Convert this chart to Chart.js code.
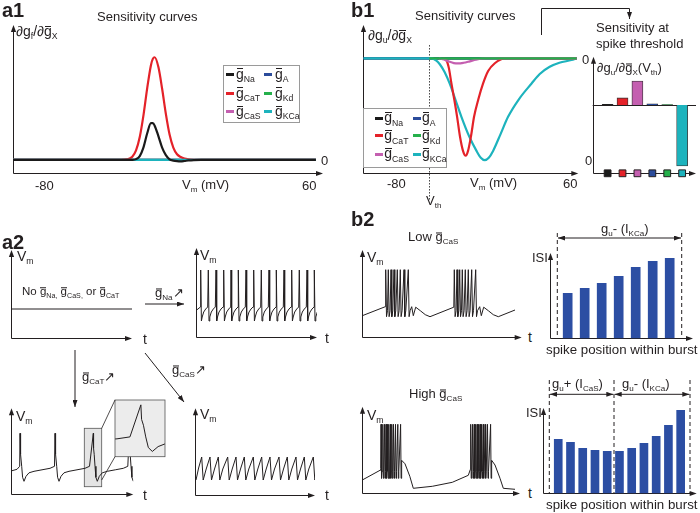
<!DOCTYPE html>
<html>
<head>
<meta charset="utf-8">
<script src="https://cdn.jsdelivr.net/npm/chart.js@4.4.1/dist/chart.umd.min.js"></script>
<style>
body{margin:0;background:#fff}
#fig{position:relative;width:700px;height:513px;overflow:hidden;font-family:"Liberation Sans",Arial,sans-serif;color:#231f20}
canvas{position:absolute}
.t{position:absolute;font-size:13px;line-height:1;white-space:nowrap;transform:translateY(-50%)}
.s{font-size:62%;position:relative;top:0.4em}
.o{position:relative}
.o::before{content:"";position:absolute;left:0.04em;right:0.04em;top:0.2em;border-top:1px solid currentColor}
.b{font-weight:bold;font-size:20px}
.lg{font-size:14px}
.leg{position:absolute;box-sizing:border-box;border:1px solid #9a9a9a;background:#fff}
.sw{position:absolute;width:8px;height:3px}
svg{position:absolute;left:0;top:0}
</style>
</head>
<body>
<div id="fig">
<div id="charts"></div>

<!-- a1 -->
<div class="t b" style="left:2px;top:10px">a1</div>
<div class="t" style="left:97px;top:16px">Sensitivity curves</div>
<div class="t lg" style="left:16px;top:31px">∂g<span class="s">f</span>/∂<span class="o">g</span><span class="s">X</span></div>
<div class="t" style="left:321px;top:160px">0</div>
<div class="t" style="left:35px;top:185px">-80</div>
<div class="t" style="left:182px;top:185px">V<span class="s">m</span> (mV)</div>
<div class="t" style="left:302px;top:185px">60</div>

<!-- b1 -->
<div class="t b" style="left:351px;top:10px">b1</div>
<div class="t" style="left:415px;top:15px">Sensitivity curves</div>
<div class="t lg" style="left:368px;top:35px">∂g<span class="s">u</span>/∂<span class="o">g</span><span class="s">X</span></div>
<div class="t" style="left:582px;top:59px">0</div>
<div class="t" style="left:585px;top:160px">0</div>
<div class="t" style="left:387px;top:183px">-80</div>
<div class="t" style="left:470px;top:183px">V<span class="s">m</span> (mV)</div>
<div class="t" style="left:563px;top:183px">60</div>
<div class="t" style="left:426px;top:201px">V<span class="s">th</span></div>
<div class="t" style="left:596px;top:27px">Sensitivity at</div>
<div class="t" style="left:596px;top:43px">spike threshold</div>
<div class="t" style="left:597px;top:68px">∂g<span class="s">u</span>/∂<span class="o">g</span><span class="s">X</span>(V<span class="s">th</span>)</div>

<!-- a2 -->
<div class="t b" style="left:2px;top:242px">a2</div>
<div class="t lg" style="left:17px;top:256px">V<span class="s">m</span></div>
<div class="t" style="left:22px;top:292px;font-size:11.5px">No <span class="o">g</span><span class="s">Na,</span> <span class="o">g</span><span class="s">CaS,</span> or <span class="o">g</span><span class="s">CaT</span></div>
<div class="t" style="left:155px;top:293px"><span class="o">g</span><span class="s">Na</span>↗</div>
<div class="t" style="left:82px;top:377px"><span class="o">g</span><span class="s">CaT</span>↗</div>
<div class="t" style="left:172px;top:370px"><span class="o">g</span><span class="s">CaS</span>↗</div>
<div class="t lg" style="left:200px;top:255px">V<span class="s">m</span></div>
<div class="t lg" style="left:16px;top:416px">V<span class="s">m</span></div>
<div class="t lg" style="left:200px;top:414px">V<span class="s">m</span></div>
<div class="t lg" style="left:143px;top:339px">t</div>
<div class="t lg" style="left:325px;top:338px">t</div>
<div class="t lg" style="left:143px;top:495px">t</div>
<div class="t lg" style="left:325px;top:495px">t</div>

<!-- b2 -->
<div class="t b" style="left:351px;top:219px">b2</div>
<div class="t" style="left:408px;top:237px">Low <span class="o">g</span><span class="s">CaS</span></div>
<div class="t" style="left:409px;top:394px">High <span class="o">g</span><span class="s">CaS</span></div>
<div class="t lg" style="left:367px;top:257px">V<span class="s">m</span></div>
<div class="t lg" style="left:367px;top:415px">V<span class="s">m</span></div>
<div class="t lg" style="left:528px;top:337px">t</div>
<div class="t lg" style="left:528px;top:493px">t</div>
<div class="t" style="left:532px;top:257px">ISI</div>
<div class="t" style="left:526px;top:412px">ISI</div>
<div class="t" style="left:601px;top:229px">g<span class="s">u</span>- (I<span class="s">KCa</span>)</div>
<div class="t" style="left:552px;top:384px">g<span class="s">u</span>+ (I<span class="s">CaS</span>)</div>
<div class="t" style="left:622px;top:384px">g<span class="s">u</span>- (I<span class="s">KCa</span>)</div>
<div class="t" style="left:546px;top:350px;font-size:13.3px">spike position within burst</div>
<div class="t" style="left:546px;top:505px;font-size:13.3px">spike position within burst</div>

<svg width="700" height="513" viewBox="0 0 700 513">
<defs>
<marker id="ah" markerUnits="userSpaceOnUse" markerWidth="7" markerHeight="5" refX="7" refY="2.5" orient="auto-start-reverse">
<path d="M0,0L7,2.5L0,5z" fill="#231f20"/>
</marker>
</defs>
<g stroke="#231f20" stroke-width="1" fill="none">
<polyline points="541.5,35 541.5,8.5 629.5,8.5 629.5,19" marker-end="url(#ah)"/>
<line x1="145" y1="304" x2="184" y2="304" marker-end="url(#ah)"/>
<line x1="75" y1="350" x2="75" y2="407" marker-end="url(#ah)"/>
<line x1="145" y1="353" x2="184" y2="402" marker-end="url(#ah)"/>
<line x1="101.7" y1="428.3" x2="115" y2="400" stroke-width="0.8"/>
<line x1="101.7" y1="480" x2="115" y2="456.7" stroke-width="0.8"/>
<g stroke-dasharray="4 3">
<line x1="557.3" y1="233" x2="557.3" y2="338"/>
<line x1="681.7" y1="233" x2="681.7" y2="338"/>
<line x1="549.3" y1="380" x2="549.3" y2="493"/>
<line x1="614" y1="380" x2="614" y2="493"/>
<line x1="690" y1="380" x2="690" y2="493"/>
</g>
<line x1="558" y1="238" x2="681" y2="238" marker-start="url(#ah)" marker-end="url(#ah)"/>
<line x1="550" y1="394.3" x2="613.3" y2="394.3" marker-start="url(#ah)" marker-end="url(#ah)"/>
<line x1="614.7" y1="394.3" x2="689.3" y2="394.3" marker-start="url(#ah)" marker-end="url(#ah)"/>
</g>
</svg>
</div>

<script>
// ---------- data ----------

// a1: sensitivity of the fast variable, dg_f/dgX (a.u.) vs Vm (mV)
const a1Vm  = [-99, -41, -38, -35, -33, -31, -29, -27, -25, -24, -23, -21, -19, -17, -15, -13, -11, -9, -7, -5, -2, 2, 63.5];
const a1CaT = [0, 0, 0.005, 0.032, 0.093, 0.223, 0.436, 0.70, 0.923, 0.984, 1.0, 0.904, 0.693, 0.449, 0.247, 0.12, 0.055, 0.028, 0.014, 0.007, 0.002, 0, 0];
const a1Na  = [0, 0, 0, 0.001, 0.008, 0.038, 0.123, 0.26, 0.358, 0.358, 0.334, 0.232, 0.12, 0.047, 0.006, -0.006, -0.012, -0.014, -0.01, -0.005, -0.001, 0, 0];
const a1Ends = [-99, 63.5];   // A, Kd, CaS, KCa stay at zero

// b1: sensitivity of the ultraslow variable, dg_u/dgX (a.u.) vs Vm (mV)
const b1Ends   = [-109.7, 64];
const vth      = -56.2;
const b1CaTVm  = [-45, -42, -40, -37.9, -35.5, -33.3, -31, -28.5, -26.3, -24.4, -22, -19.5, -16, -12.2, -8, -2.6, 5.5, 64];
const b1CaT    = [0, -0.02, -0.1, -0.26, -0.43, -0.6, -0.8, -0.95, -1.0, -0.95, -0.8, -0.6, -0.42, -0.26, -0.13, -0.05, 0, 0];
const b1KCaVm  = [-109.7, -54.2, -50.5, -47.4, -43.5, -39.3, -34.5, -29.8, -23.5, -17.5, -14, -10.8, -7.5, -4, 2, 8.2, 17, 27.2, 34, 42.1, 50, 59.8, 64];
const b1KCa    = [0, 0, -0.02, -0.06, -0.14, -0.26, -0.43, -0.6, -0.8, -0.95, -1.02, -1.045, -1.02, -0.95, -0.78, -0.6, -0.42, -0.26, -0.16, -0.086, -0.045, -0.017, 0];
const b1CaSVm  = [-48, -44, -40, -36, -32.5, -28, -23, -18, -13.5, -10, 64];
const b1CaS    = [0, -0.012, -0.032, -0.048, -0.052, -0.045, -0.03, -0.014, -0.003, 0, 0];
const b1KdVm   = [-56, 64];

// b1 inset: sensitivity at spike threshold
const thrKeys = ['Na', 'CaT', 'CaS', 'A', 'Kd', 'KCa'];
const thrVals = [0.008, 0.115, 0.39, 0.016, 0.005, -1.0];

// a2 traces (t in ms, V in mV, schematic)
const restVm = -50.7;
const naPre = [[0.7, -53], [4.4, -50]];
const naSpikes = [4.7, 12.3, 20, 27.7, 35, 42.3, 50, 57.7, 65.3, 73, 80.3, 88, 95.7, 103.3, 111, 118.3];
const naShape = [[0, -13], [0.7, -64], [1.5, -60], [3, -55], [5, -52], [7, -50]];
const catPre = [[0.7, -56.5], [6, -55], [8.7, -52]];
const catSpikes = [9, 44, 82.3, 118.3];
const catShape = [[0, -19], [0.25, -34], [0.9, -40], [1.7, -52], [2.6, -63], [4, -67], [6, -62], [9, -58.5], [14, -57], [22, -55.5], [30, -54], [34.5, -52]];
const casPre = [[1, -65], [3.6, -53]];
const casPeaks = [6.7, 15, 23.3, 32.7, 41, 49.3, 58.3, 66.7, 75, 84, 92.3, 101, 109.3, 118.3];
const casShape = [[0, -42], [1.5, -65], [4.5, -54]];
const casPost = [[121.7, -62]];

// b2 traces
const lowSpikes = [[23.4, 26, 28.7, 31.7, 35, 38, 41.7, 46], [92, 94.7, 97.4, 100, 103, 106, 109.4, 113.4]];
const lowSlow = [
  [[0, -59], [23, -50]],
  [[49.4, -50], [51, -59], [53.4, -50.5], [58, -54], [63, -58], [67.7, -60], [91.5, -50.5]],
  [[117.4, -50], [119, -59], [121.4, -50.5], [126, -54], [131, -58], [136, -60], [152.7, -53.3]]
];
const lowShape = [[0, -13], [0.8, -60], [1.8, -54]];
const highSpikes = [[18.7, 20.5, 22.2, 23.7, 25.2, 26.6, 28, 29.5, 31.2, 33.2, 35.5, 38.3],
                    [108.4, 110.2, 111.9, 113.4, 114.9, 116.3, 117.7, 119.2, 120.9, 122.9, 125.2, 128.3]];
const highSlow = [
  [[0, -66.7], [17.7, -57], [18.4, -55]],
  [[39.4, -47], [42.7, -50.5], [47.5, -63], [51, -75], [70, -73], [90, -69], [106, -62], [108.1, -56]],
  [[129.4, -47], [132.7, -51.7], [137.7, -65], [141, -75], [152.7, -76]]
];
const highShape = [[0, -11], [0.5, -65], [1.0, -58]];

// ISI per spike position
const isiLow  = [45, 50, 55, 62, 71, 77, 80];
const isiHigh = [54, 51, 45, 43, 42, 42, 45, 50, 57, 68, 83];

// ---------- helpers ----------
const INK = '#231f20';
const COL = {Na: '#1a1a1a', A: '#2b4c9b', CaT: '#e42229', Kd: '#25b04b', CaS: '#c45fb0', KCa: '#1db3bd'};
const BAR = '#2c4ea3';

Chart.defaults.animation = false;
Chart.defaults.events = [];
Chart.defaults.plugins.legend.display = false;
Chart.defaults.plugins.tooltip.enabled = false;
Chart.defaults.elements.point.radius = 0;

// arrowed axes at the left and bottom of the plot area
Chart.register({
  id: 'axes',
  beforeDatasetsDraw(chart) {
    const a = chart.chartArea, ctx = chart.ctx;
    const x0 = Math.round(a.left) + 0.5, y0 = Math.round(a.bottom) + 0.5;
    ctx.save();
    ctx.strokeStyle = ctx.fillStyle = INK;
    ctx.lineWidth = 1;
    ctx.beginPath();
    ctx.moveTo(x0, a.top + 5); ctx.lineTo(x0, y0); ctx.lineTo(a.right - 5, y0);
    ctx.stroke();
    ctx.beginPath();
    ctx.moveTo(x0, a.top); ctx.lineTo(x0 - 2.6, a.top + 7); ctx.lineTo(x0 + 2.6, a.top + 7);
    ctx.closePath(); ctx.fill();
    ctx.beginPath();
    ctx.moveTo(a.right, y0); ctx.lineTo(a.right - 7, y0 - 2.6); ctx.lineTo(a.right - 7, y0 + 2.6);
    ctx.closePath(); ctx.fill();
    ctx.restore();
  }
});

function makeChart(area, pad, config) {
  const L = Math.floor(area.l - pad[0]), T = Math.floor(area.t - pad[1]);
  const R = Math.ceil(area.r + pad[2]), B = Math.ceil(area.b + pad[3]);
  const c = document.createElement('canvas');
  c.width = R - L; c.height = B - T;
  c.style.left = L + 'px'; c.style.top = T + 'px';
  c.style.width = (R - L) + 'px'; c.style.height = (B - T) + 'px';
  document.getElementById('charts').appendChild(c);
  config.options = Object.assign({
    responsive: false,
    layout: {padding: {left: area.l - L, top: area.t - T, right: R - area.r, bottom: B - area.b}}
  }, config.options);
  return new Chart(c, config);
}

const lin = (min, max) => ({type: 'linear', display: false, min, max, offset: false});
const xy = (xs, ys) => xs.map((x, i) => ({x, y: ys[i]}));
const zeros = xs => xs.map(x => ({x, y: 0}));
const pairs = ps => ps.map(p => ({x: p[0], y: p[1]}));

function curve(data, color, order) {
  return {data, borderColor: color, borderWidth: 2.2, order, fill: false, cubicInterpolationMode: 'monotone'};
}
function trace(data) {
  return {data, borderColor: INK, borderWidth: 1, tension: 0, fill: false};
}

// slow segments interleaved with bursts of spikes, each spike drawn with a shape template
function burstTrace(slow, bursts, shape) {
  const pts = [];
  slow.forEach((seg, k) => {
    seg.forEach(p => pts.push(p));
    const b = bursts[k];
    if (!b) return;
    const lim = slow[k + 1] && slow[k + 1].length ? slow[k + 1][0][0] : Infinity;
    b.forEach((t0, i) => {
      const next = i < b.length - 1 ? b[i + 1] : lim;
      shape.forEach(s => { if (t0 + s[0] < next) pts.push([t0 + s[0], s[1]]); });
    });
  });
  return pairs(pts);
}

function legend(box, sw, tx, rows) {
  const order = ['Na', 'A', 'CaT', 'Kd', 'CaS', 'KCa'];
  const d = document.createElement('div');
  d.className = 'leg';
  Object.assign(d.style, {left: box[0] + 'px', top: box[1] + 'px', width: box[2] + 'px', height: box[3] + 'px'});
  order.forEach((k, i) => {
    const col = i % 2, row = Math.floor(i / 2);
    const s = document.createElement('div');
    s.className = 'sw';
    s.style.left = sw[col] + 'px';
    s.style.top = (rows[row] - 1.5) + 'px';
    s.style.background = COL[k];
    const t = document.createElement('div');
    t.className = 't lg';
    t.style.left = tx[col] + 'px';
    t.style.top = (rows[row] - 0.8) + 'px';
    t.innerHTML = '<span class="o">g</span><span class="s">' + k + '</span>';
    d.append(s, t);
  });
  document.getElementById('fig').appendChild(d);
}

// ---------- a1 ----------
makeChart({l: 13, t: 25, r: 323, b: 173.3}, [6, 6, 6, 6], {
  type: 'line',
  data: {datasets: [
    curve(xy(a1Vm, a1Na), COL.Na, 0),
    curve(zeros(a1Ends), COL.KCa, 1),
    curve(xy(a1Vm, a1CaT), COL.CaT, 2),
    curve(zeros(a1Ends), COL.CaS, 3),
    curve(zeros(a1Ends), COL.Kd, 4),
    curve(zeros(a1Ends), COL.A, 5)
  ]},
  options: {scales: {x: lin(-99, 67.3), y: lin(-0.13, 1.314)}}
});
legend([222.7, 65, 77.3, 58.3], [2.3, 40.6], [12.3, 51.3], [8.3, 27.3, 45.7]);

// ---------- b1 ----------
makeChart({l: 363.3, t: 25, r: 578.3, b: 173.3}, [6, 6, 6, 30], {
  type: 'line',
  data: {datasets: [
    curve(zeros(b1KdVm), COL.Kd, 0),
    curve(xy(b1CaSVm, b1CaS), COL.CaS, 1),
    curve(xy(b1CaTVm, b1CaT), COL.CaT, 2),
    curve(xy(b1KCaVm, b1KCa), COL.KCa, 3),
    curve(zeros(b1Ends), COL.A, 4),
    curve(zeros(b1Ends), COL.Na, 5)
  ]},
  options: {scales: {x: lin(-109.7, 65.4), y: lin(-1.18, 0.343)}},
  plugins: [{
    id: 'vth',
    beforeDatasetsDraw(chart) {
      const {ctx, scales: {x, y}} = chart;
      const px = Math.round(x.getPixelForValue(vth)) + 0.5;
      ctx.save();
      ctx.strokeStyle = '#444'; ctx.lineWidth = 1; ctx.setLineDash([1.5, 1.5]);
      ctx.beginPath();
      ctx.moveTo(px, y.getPixelForValue(0.137)); ctx.lineTo(px, y.getPixelForValue(-1.46));
      ctx.stroke();
      ctx.restore();
    }
  }]
});
legend([362.7, 108.3, 84, 60], [11.3, 49], [20.6, 58.3], [9, 26.7, 45]);

makeChart({l: 592.7, t: 56.7, r: 696, b: 173.3}, [6, 6, 6, 6], {
  type: 'bar',
  data: {datasets: [
    {type: 'scatter', data: thrKeys.map((k, i) => ({x: i + 1, y: -1.12})), pointStyle: 'rect', pointRadius: 4.8,
     backgroundColor: thrKeys.map(k => COL[k]), borderColor: INK, borderWidth: 1, clip: false, order: 0},
    {data: thrVals.map((v, i) => ({x: i + 1, y: v})), backgroundColor: thrKeys.map(k => COL[k]),
     borderColor: '#333', borderWidth: 0.8, barThickness: 11, order: 1}
  ]},
  options: {scales: {x: lin(0, 6.93), y: lin(-1.12, 0.79)}},
  plugins: [{
    id: 'zero',
    beforeDatasetsDraw(chart) {
      const {ctx, chartArea: a, scales: {y}} = chart;
      const py = Math.round(y.getPixelForValue(0)) + 0.5;
      ctx.save();
      ctx.strokeStyle = INK; ctx.lineWidth = 1;
      ctx.beginPath(); ctx.moveTo(a.left, py); ctx.lineTo(a.right, py); ctx.stroke();
      ctx.restore();
    }
  }]
});

// ---------- a2 ----------
makeChart({l: 11, t: 250, r: 132, b: 338.3}, [6, 6, 6, 6], {
  type: 'line',
  data: {datasets: [trace([{x: 0, y: restVm}, {x: 122, y: restVm}])]},
  options: {scales: {x: lin(0, 121), y: lin(-80, 8.3)}}
});
makeChart({l: 196, t: 248, r: 317, b: 337}, [6, 6, 6, 6], {
  type: 'line',
  data: {datasets: [trace(burstTrace([naPre, []], [naSpikes], naShape))]},
  options: {scales: {x: lin(0, 121), y: lin(-80, 9)}}
});
const catTrace = burstTrace([catPre, []], [catSpikes], catShape);
makeChart({l: 11, t: 408.3, r: 133.3, b: 494.3}, [6, 6, 6, 6], {
  type: 'line',
  data: {datasets: [trace(catTrace)]},
  options: {scales: {x: lin(0, 122.3), y: lin(-80, 6)}},
  plugins: [{
    id: 'zoomBox',
    beforeDatasetsDraw(chart) {
      const {ctx, scales: {x, y}} = chart;
      const x1 = x.getPixelForValue(73.3), x2 = x.getPixelForValue(90.7);
      const y1 = y.getPixelForValue(-14), y2 = y.getPixelForValue(-72.4);
      ctx.save();
      ctx.fillStyle = '#e4e4e4'; ctx.strokeStyle = '#555'; ctx.lineWidth = 0.8;
      ctx.fillRect(x1, y1, x2 - x1, y2 - y1);
      ctx.strokeRect(x1, y1, x2 - x1, y2 - y1);
      ctx.restore();
    }
  }]
});
makeChart({l: 195, t: 408.3, r: 315, b: 495}, [6, 6, 6, 6], {
  type: 'line',
  data: {datasets: [trace(burstTrace([casPre, casPost], [casPeaks], casShape))]},
  options: {scales: {x: lin(0, 120), y: lin(-80, 6.7)}}
});
// magnified view of the third CaT spike
makeChart({l: 115, t: 400, r: 165, b: 456.7}, [1, 1, 1, 1], {
  type: 'line',
  data: {datasets: [trace(catTrace)]},
  options: {scales: {x: lin(73.3, 90.7), y: lin(-72.4, -14)}, plugins: {axes: false}},
  plugins: [{
    id: 'insetBox',
    beforeDatasetsDraw(chart) {
      const {ctx, chartArea: a} = chart;
      ctx.save(); ctx.fillStyle = '#ececec';
      ctx.fillRect(a.left, a.top, a.right - a.left, a.bottom - a.top);
      ctx.restore();
    },
    afterDraw(chart) {
      const {ctx, chartArea: a} = chart;
      ctx.save(); ctx.strokeStyle = '#555'; ctx.lineWidth = 0.8;
      ctx.strokeRect(a.left, a.top, a.right - a.left, a.bottom - a.top);
      ctx.restore();
    }
  }]
});

// ---------- b2 ----------
makeChart({l: 362.3, t: 250, r: 521.7, b: 336.7}, [6, 6, 6, 6], {
  type: 'line',
  data: {datasets: [trace(burstTrace(lowSlow, lowSpikes, lowShape))]},
  options: {scales: {x: lin(0, 159.4), y: lin(-80, 6.7)}}
});
makeChart({l: 362.3, t: 406.7, r: 520, b: 493.3}, [6, 6, 6, 6], {
  type: 'line',
  data: {datasets: [trace(burstTrace(highSlow, highSpikes, highShape))]},
  options: {scales: {x: lin(0, 157.7), y: lin(-80, 6.6)}}
});
makeChart({l: 550, t: 253, r: 693, b: 338.3}, [6, 6, 6, 6], {
  type: 'bar',
  data: {datasets: [{data: isiLow.map((v, i) => ({x: i + 1, y: v})), backgroundColor: BAR, barThickness: 9}]},
  options: {scales: {x: lin(-0.04, 8.37), y: lin(0, 85.3)}}
});
makeChart({l: 542.7, t: 408, r: 696.7, b: 493.3}, [6, 6, 3, 6], {
  type: 'bar',
  data: {datasets: [{data: isiHigh.map((v, i) => ({x: i + 1, y: v})), backgroundColor: BAR, barThickness: 8}]},
  options: {scales: {x: lin(-0.27, 12.31), y: lin(0, 85.3)}}
});
</script>
</body>
</html>
